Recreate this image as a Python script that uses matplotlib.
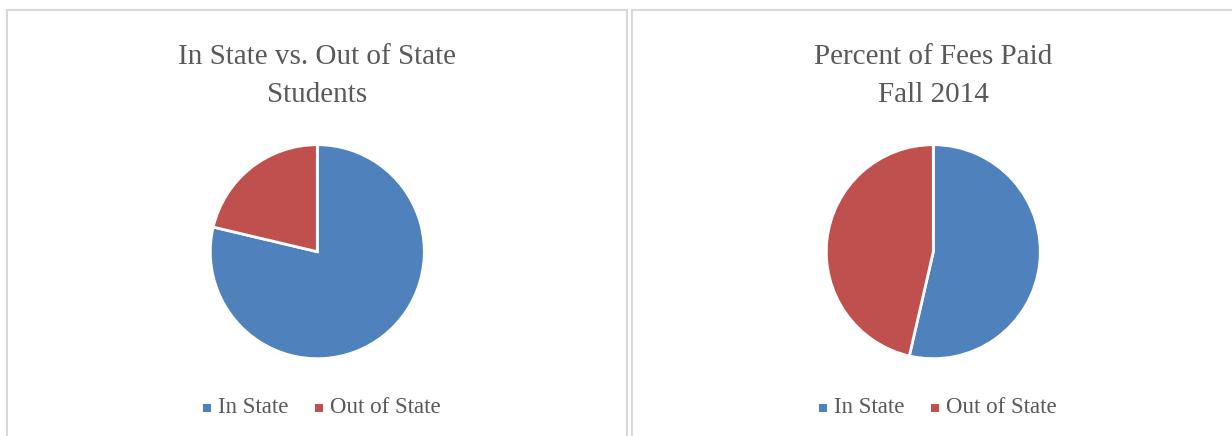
import matplotlib
matplotlib.use("Agg")
import matplotlib.pyplot as plt
from matplotlib.patches import Rectangle

# data
labels = ["In State", "Out of State"]
students = [78.7, 21.3]
fees = [53.6, 46.4]
colors = ["#4F81BD", "#C0504D"]
titles = ["In State vs. Out of State\nStudents", "Percent of Fees Paid\nFall 2014"]

W, H = 1232, 436
fig = plt.figure(figsize=(W / 100, H / 100), dpi=100)
text_col = "#595959"
serif = ["Liberation Serif", "DejaVu Serif"]


def px_box(x0, y0, x1, y1):
    # pixel box (top-left origin) -> figure fraction
    return [x0 / W, 1 - y1 / H, (x1 - x0) / W, (y1 - y0) / H]


# panel frames
for x0, x1 in [(7, 627), (632, 1240)]:
    fig.patches.append(Rectangle((x0 / W, -0.05), (x1 - x0) / W, 1.05 - 10 / H,
                                 transform=fig.transFigure, fill=False,
                                 edgecolor="#d9d9d9", linewidth=1.5))

centers = [317.3, 933.3]
for cx, vals, title in zip(centers, [students, fees], titles):
    r = 107
    ax = fig.add_axes(px_box(cx - r, 251.7 - r, cx + r, 251.7 + r))
    ax.pie(vals, colors=colors, startangle=90, counterclock=False,
           wedgeprops=dict(edgecolor="white", linewidth=2))
    ax.set_xlim(-1, 1)
    ax.set_ylim(-1, 1)
    ax.axis("off")
    fig.text(cx / W, 1 - 76 / H, title, ha="center", va="center",
             fontsize=21, color=text_col, family=serif, linespacing=1.6)

    # legend
    lx = cx - 114
    for lab, col, off in zip(labels, colors, [0, 112]):
        fig.patches.append(Rectangle(((lx + off) / W, 1 - 412 / H), 8 / W, 8 / H,
                                     transform=fig.transFigure, facecolor=col,
                                     edgecolor="none"))
        fig.text((lx + off + 15) / W, 1 - 407 / H, lab, ha="left", va="center",
                 fontsize=16.5, color=text_col, family=serif)

fig.savefig("out.png", dpi=100, facecolor="white")
